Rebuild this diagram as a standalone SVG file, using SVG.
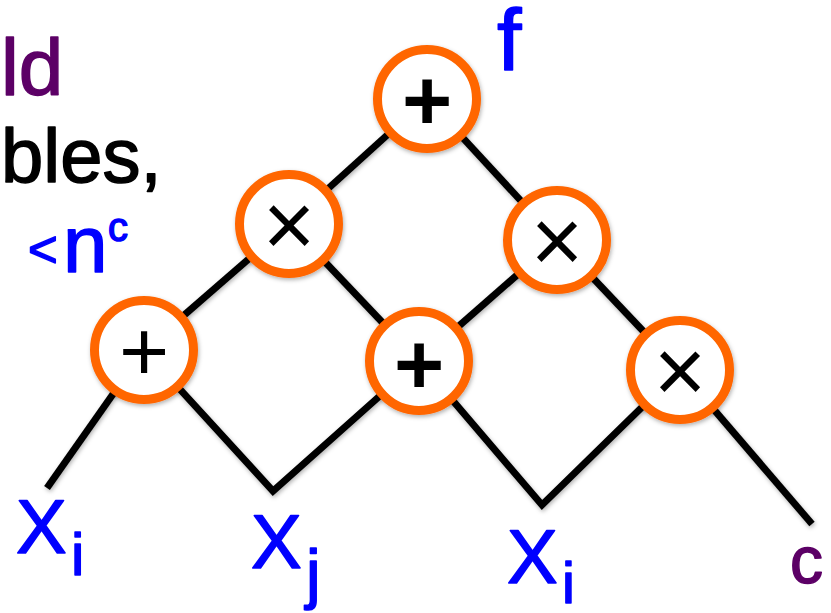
<svg xmlns="http://www.w3.org/2000/svg" width="831" height="613" viewBox="0 0 831 613">
  <defs>
    <filter id="sh" x="-20%" y="-20%" width="140%" height="140%">
      <feDropShadow dx="1" dy="2" stdDeviation="2" flood-color="#000" flood-opacity="0.3"/>
    </filter>
  </defs>
  <style>
    .edge { fill: none; stroke: #000; stroke-width: 7; stroke-linejoin: miter; filter: url(#sh); }
    .node circle { fill: #fff; stroke: #ff6600; stroke-width: 9; filter: url(#sh); }
    .op { font-family: "Liberation Sans", Arial, sans-serif; fill: #000; text-anchor: middle; }
    .bold { font-weight: bold; }
    .lbl { font-family: "Liberation Sans", Arial, sans-serif; fill: #0000ff; stroke: #0000ff; stroke-width: 1.5; stroke-linejoin: round; }
    .purple { fill: #5c0066; stroke: #5c0066; }
    .black { fill: #000; stroke: #000; }
  </style>

  <text class="lbl purple" x="1" y="95" font-size="80" stroke-width="4">ld</text>
  <text class="lbl black" x="1" y="182" font-size="76" stroke-width="4">bles,</text>
  <text class="lbl" x="28" y="267" font-size="51" stroke-width="3">&lt;</text>
  <text class="lbl" x="63" y="272" font-size="80" stroke-width="3">n</text>
  <text class="lbl" x="108" y="241" font-size="40" stroke-width="2">c</text>

  <g id="connectors">
    <line class="edge" x1="427" y1="99" x2="289" y2="224"/>
    <line class="edge" x1="427" y1="99" x2="557" y2="240"/>
    <line class="edge" x1="289" y1="224" x2="144" y2="350"/>
    <line class="edge" x1="289" y1="224" x2="419" y2="361"/>
    <line class="edge" x1="557" y1="240" x2="419" y2="361"/>
    <line class="edge" x1="557" y1="240" x2="680" y2="370"/>
    <line class="edge" x1="144" y1="350" x2="47" y2="488"/>
    <polyline class="edge" points="144,350 273,491 419,361"/>
    <polyline class="edge" points="419,361 542,505 680,370"/>
    <line class="edge" x1="680" y1="370" x2="812" y2="524"/>
  </g>

  <g id="n-plus-top" class="node">
    <circle cx="427" cy="99" r="49.5"/>
    <text class="op bold" x="427" y="130" font-size="86">+</text>
  </g>
  <g id="n-times-left" class="node">
    <circle cx="289" cy="224" r="49.5"/>
    <text class="op" x="289" y="256" font-size="90">×</text>
  </g>
  <g id="n-times-right" class="node">
    <circle cx="557" cy="240" r="49.5"/>
    <text class="op" x="557" y="272" font-size="90">×</text>
  </g>
  <g id="n-plus-left" class="node">
    <circle cx="144" cy="350" r="49.5"/>
    <text class="op" x="144" y="381" font-size="86">+</text>
  </g>
  <g id="n-plus-mid" class="node">
    <circle cx="419" cy="361" r="49.5"/>
    <text class="op bold" x="419" y="394" font-size="86">+</text>
  </g>
  <g id="n-times-low" class="node">
    <circle cx="680" cy="370" r="49.5"/>
    <text class="op" x="680" y="402" font-size="90">×</text>
  </g>

  <text class="lbl" x="497" y="70" font-size="88" stroke-width="3">f</text>

  <g id="leaf-xi-1">
    <text class="lbl" x="16" y="553" font-size="76">X</text>
    <text class="lbl" x="71" y="575" font-size="60">i</text>
  </g>
  <g id="leaf-xj">
    <text class="lbl" x="251" y="568" font-size="76">X</text>
    <text class="lbl" x="306" y="596" font-size="66">j</text>
  </g>
  <g id="leaf-xi-2">
    <text class="lbl" x="507" y="583" font-size="76">X</text>
    <text class="lbl" x="562" y="603" font-size="58">i</text>
  </g>
  <g id="leaf-c">
    <text class="lbl purple" x="790" y="583" font-size="66" stroke-width="3">c</text>
  </g>
</svg>
